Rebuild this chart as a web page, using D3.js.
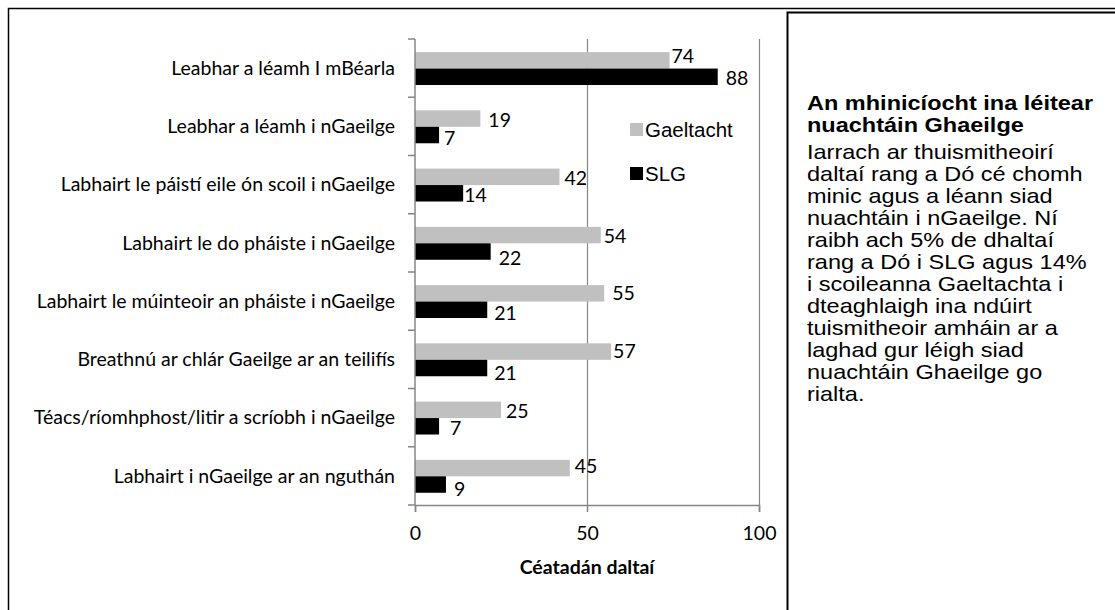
<!DOCTYPE html>
<html>
<head>
<meta charset="utf-8">
<script src="https://cdn.jsdelivr.net/npm/d3@7"></script>
<style>
  body { margin: 0; background: #fff; }
  svg { display: block; }
</style>
</head>
<body>
<div id="chart"></div>
<script>
// categories (top to bottom)
const categories = [
  "Leabhar a léamh I mBéarla",
  "Leabhar a léamh i nGaeilge",
  "Labhairt le páistí eile ón scoil i nGaeilge",
  "Labhairt le do pháiste i nGaeilge",
  "Labhairt le múinteoir an pháiste i nGaeilge",
  "Breathnú ar chlár Gaeilge ar an teilifís",
  "Téacs/ríomhphost/litir a scríobh i nGaeilge",
  "Labhairt i nGaeilge ar an nguthán"
];
const seriesNames = ["Gaeltacht", "SLG"];
const gaeltacht = [74, 19, 42, 54, 55, 57, 25, 45];
const slg = [88, 7, 14, 22, 21, 21, 7, 9];
const xTicks = [0, 50, 100];
const axisTitle = "Céatadán daltaí";

const panelTitle = ["An mhinicíocht ina léitear", "nuachtáin Ghaeilge"];
const panelText = [
  "Iarrach ar thuismitheoirí",
  "daltaí rang a Dó cé chomh",
  "minic agus a léann siad",
  "nuachtáin i nGaeilge. Ní",
  "raibh ach 5% de dhaltaí",
  "rang a Dó i SLG agus 14%",
  "i scoileanna Gaeltachta i",
  "dteaghlaigh ina ndúirt",
  "tuismitheoir amháin ar a",
  "laghad gur léigh siad",
  "nuachtáin Ghaeilge go",
  "rialta."
];

// small label nudges, as placed in the original
const nudgeG = [[2, -4], [8, 1.5], [5, 1], [3, 1.5], [8, 0], [2, 0], [5, 1.5], [5, -1.5]];
const nudgeS = [[8, 1.5], [5, 3.5], [1, 1.5], [8, 7], [7, 3], [7, 5], [11, 1.5], [8, 4.5]];

const W = 1115, H = 610;
const calibri = "Lato, 'Open Sans', sans-serif";
const arial = "'Liberation Sans', Arial, sans-serif";
const axisColor = "#868686";

const svg = d3.select("#chart").append("svg")
  .attr("width", W)
  .attr("height", H);

// outer frame
svg.append("rect")
  .attr("x", 8.5).attr("y", 8.5)
  .attr("width", W + 20).attr("height", H + 20)
  .attr("fill", "#fff")
  .attr("stroke", "#000")
  .attr("stroke-width", 1.5);

const x = d3.scaleLinear().domain([0, 100]).range([415, 759]);
const y = d3.scaleBand().domain(categories).range([39, 505]).padding(0);
const yInner = d3.scaleBand().domain(seriesNames)
  .range([y.bandwidth() * 0.225, y.bandwidth() * 0.79]);

const colors = { "Gaeltacht": "#c0c0c0", "SLG": "#000000" };

// gridlines
svg.append("g")
  .selectAll("line")
  .data(xTicks.filter(d => d > 0))
  .join("line")
    .attr("x1", d => Math.round(x(d)) + 0.5)
    .attr("x2", d => Math.round(x(d)) + 0.5)
    .attr("y1", 39)
    .attr("y2", 505)
    .attr("stroke", axisColor)
    .attr("stroke-width", 1.2);

// bars
const rows = categories.map((c, i) => ({ cat: c, i: i, vals: [gaeltacht[i], slg[i]] }));

const groups = svg.append("g")
  .selectAll("g")
  .data(rows)
  .join("g")
    .attr("transform", d => `translate(0,${y(d.cat)})`);

groups.selectAll("rect")
  .data(d => d.vals.map((v, k) => ({ key: seriesNames[k], v: v, i: d.i })))
  .join("rect")
    .attr("x", x(0))
    .attr("y", d => yInner(d.key))
    .attr("width", d => x(d.v) - x(0))
    .attr("height", yInner.bandwidth())
    .attr("fill", d => colors[d.key]);

groups.selectAll("text")
  .data(d => d.vals.map((v, k) => ({ key: seriesNames[k], v: v, i: d.i })))
  .join("text")
    .attr("x", d => x(d.v) + (d.key === "SLG" ? nudgeS[d.i][0] : nudgeG[d.i][0]))
    .attr("y", d => yInner(d.key) + yInner.bandwidth() / 2 + (d.key === "SLG" ? nudgeS[d.i][1] : nudgeG[d.i][1]))
    .attr("dy", "0.35em")
    .attr("font-family", calibri)
    .attr("font-size", "19.5px")
    .attr("fill", "#000")
    .text(d => d.v);

// left axis
const yAxis = svg.append("g")
  .attr("transform", `translate(${x(0)},0)`);
yAxis.append("line")
  .attr("x1", 0).attr("x2", 0)
  .attr("y1", 39).attr("y2", 505)
  .attr("stroke", axisColor).attr("stroke-width", 1.5);
yAxis.selectAll("line.tick")
  .data(categories.map(c => y(c)).concat([505]))
  .join("line")
    .attr("class", "tick")
    .attr("x1", -7).attr("x2", 0)
    .attr("y1", d => d).attr("y2", d => d)
    .attr("stroke", axisColor).attr("stroke-width", 1.5);
yAxis.selectAll("text")
  .data(categories)
  .join("text")
    .attr("x", -20)
    .attr("y", d => y(d) + y.bandwidth() / 2)
    .attr("dy", "0.35em")
    .attr("text-anchor", "end")
    .attr("font-family", calibri)
    .attr("font-size", "19.5px")
    .attr("fill", "#000")
    .text(d => d);

// bottom axis
const xAxis = svg.append("g")
  .attr("transform", "translate(0,505)")
  .call(d3.axisBottom(x).tickValues(xTicks).tickSize(7).tickPadding(14));
xAxis.select(".domain").attr("stroke", axisColor).attr("stroke-width", 1.5);
xAxis.selectAll(".tick line").attr("stroke", axisColor).attr("stroke-width", 1.5);
xAxis.selectAll(".tick text")
  .attr("font-family", calibri)
  .attr("font-size", "19.5px")
  .attr("fill", "#000");

svg.append("text")
  .attr("x", x(50))
  .attr("y", 574)
  .attr("text-anchor", "middle")
  .attr("font-family", calibri)
  .attr("font-size", "19.5px")
  .attr("font-weight", "bold")
  .text(axisTitle);

// legend
const legend = svg.append("g");
seriesNames.forEach((s, k) => {
  const ly = 123 + k * 44;
  legend.append("rect")
    .attr("x", 630).attr("y", ly)
    .attr("width", 13).attr("height", 13)
    .attr("fill", colors[s]);
  legend.append("text")
    .attr("x", 645).attr("y", ly + 14)
    .attr("font-family", arial)
    .attr("font-size", "20.5px")
    .attr("fill", "#000")
    .text(s);
});

// right text panel
svg.append("rect")
  .attr("x", 787.5).attr("y", 12.5)
  .attr("width", 400).attr("height", 700)
  .attr("fill", "#fff")
  .attr("stroke", "#000")
  .attr("stroke-width", 2);

// text in the panel is a little wider than plain Arial
const stretch = 1.12;
const panel = svg.append("g");
panel.selectAll("text.title")
  .data(panelTitle)
  .join("text")
    .attr("class", "title")
    .attr("transform", (d, i) => `translate(807,${110 + i * 22}) scale(${stretch},1)`)
    .attr("font-family", arial)
    .attr("font-size", "21px")
    .attr("font-weight", "bold")
    .text(d => d);
panel.selectAll("text.body")
  .data(panelText)
  .join("text")
    .attr("class", "body")
    .attr("transform", (d, i) => `translate(807,${159 + i * 22}) scale(${stretch},1)`)
    .attr("font-family", arial)
    .attr("font-size", "21px")
    .text(d => d);
</script>
</body>
</html>
